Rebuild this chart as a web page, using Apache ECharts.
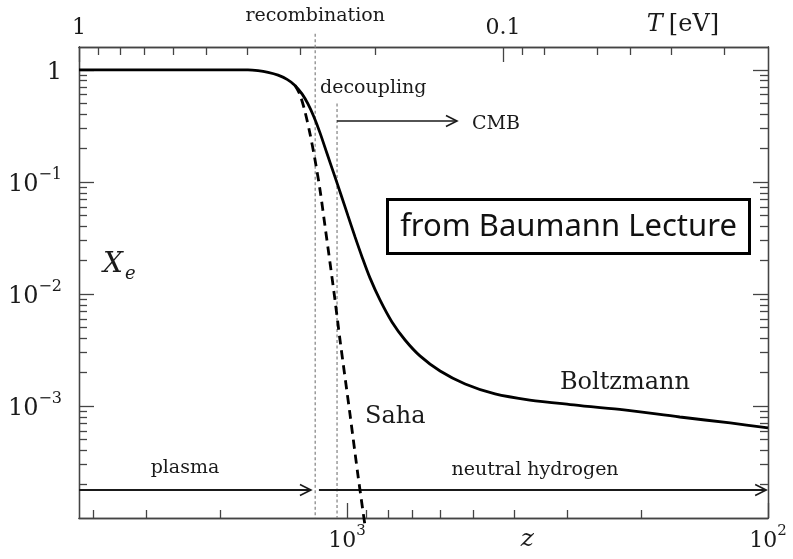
<!DOCTYPE html>
<html><head><meta charset="utf-8">
<script src="https://cdn.jsdelivr.net/npm/echarts@6/dist/echarts.min.js"></script>
<style>html,body{margin:0;padding:0;background:#fff}#c{width:793px;height:559px}</style>
</head><body><div id="c"></div>
<script>
// ---- data ----
const boltzmannZ  = [4331, 2235, 1719, 1627, 1540, 1458, 1388, 1329, 1279, 1238, 1198, 1159, 1116, 1074, 1033, 994.5, 957, 921, 882, 835, 782, 728, 671, 601, 524, 445, 368, 295, 225, 162, 123, 100];
const boltzmannXe = [1, 1, 1, 0.984, 0.95, 0.897, 0.823, 0.727, 0.61, 0.497, 0.38, 0.274, 0.18, 0.1179, 0.0765, 0.0497, 0.0323, 0.0214, 0.0139, 0.00884, 0.00562, 0.00388, 0.0028, 0.00205, 0.00157, 0.00128, 0.00113, 0.00103, 0.000931, 0.000797, 0.000705, 0.000637];
const sahaZ  = [1329, 1293, 1258, 1224, 1191, 1159, 1128, 1098, 1068, 1039, 984, 942, 906];
const sahaXe = [0.727, 0.598, 0.422, 0.268, 0.157, 0.0848, 0.0405, 0.0193, 0.00884, 0.00388, 0.000849, 0.000242, 0.0000849];
const zMajorTicks = [1000, 100];
const zMinorTicks = [4000, 3000, 2000, 900, 800, 700, 600, 500, 400, 300, 200];
const tMajorTicks = [1, 0.1];
const tMinorTicks = [0.9, 0.8, 0.7, 0.6, 0.5, 0.4, 0.3, 0.2, 0.09, 0.08, 0.06, 0.05, 0.04, 0.03];
const xeMajorTicks = [1, 0.1, 0.01, 0.001];
const xeMinorTicks = [0.9,0.8,0.7,0.6,0.5,0.4,0.3,0.2, 0.09,0.08,0.07,0.06,0.05,0.04,0.03,0.02, 0.009,0.008,0.007,0.006,0.005,0.004,0.003,0.002, 0.0009,0.0008,0.0007,0.0006,0.0005,0.0004,0.0003,0.0002];
const zRange = [100, 4331];
const tRange = [0.0237, 1];
const xeRange = [0.0001, 1.6];
const zRecombination = 1190;
const zDecoupling = 1056;
const xeArrowLevel = 1.78e-4;
const xeCMBArrow = 0.35;
const zCMBArrowEnd = 548;
const zPlasmaEnd = 1218;
const zNeutralStart = 1166;

// ---- chart ----
const SERIF = '"DejaVu Serif", "Liberation Serif", serif';
const INK = '#1a1a1a';
const AX = '#444';
const chart = echarts.init(document.getElementById('c'), null, {renderer: 'canvas'});

function pairs(xs, ys) { return xs.map((x, i) => [x, ys[i]]); }
function supLabel(v) {
  if (Math.abs(v - 1) < 1e-9) return '{b|1}';
  const e = Math.round(Math.log10(v));
  return '{b|10}{s|' + (e < 0 ? '\u2212' + (-e) : e) + '}';
}
function richLab(size) {
  return {
    b: {fontFamily: SERIF, fontSize: size, color: INK, lineHeight: size + 6, verticalAlign: 'bottom'},
    s: {fontFamily: SERIF, fontSize: Math.round(size * 0.68), color: INK, lineHeight: 16, verticalAlign: 'top'}
  };
}
const lineStyleAx = {color: AX, width: 1.3};

function xAxisDef(pos, range, ticks, len, labels, fmt) {
  return {
    type: 'log', position: pos, inverse: true, min: range[0], max: range[1],
    axisLine: {show: true, onZero: false, lineStyle: lineStyleAx},
    axisTick: {show: true, inside: true, length: len, customValues: ticks, lineStyle: lineStyleAx},
    axisLabel: labels ? {show: true, customValues: labels, formatter: fmt, rich: richLab(22), margin: pos === 'top' ? 8 : 6} : {show: false},
    splitLine: {show: false}, minorTick: {show: false}
  };
}
function yAxisDef(pos, ticks, len, labels) {
  return {
    type: 'log', position: pos, min: xeRange[0], max: xeRange[1],
    axisLine: {show: true, onZero: false, lineStyle: lineStyleAx},
    axisTick: {show: true, inside: true, length: len, customValues: ticks, lineStyle: lineStyleAx},
    axisLabel: labels ? {show: true, customValues: labels, formatter: supLabel, rich: richLab(24), margin: 17} : {show: false},
    splitLine: {show: false}, minorTick: {show: false}
  };
}

function arrowHead(tx, ty) {
  return {type: 'polyline', shape: {points: [[tx - 11, ty - 5.5], [tx, ty], [tx - 11, ty + 5.5]]},
    style: {stroke: INK, lineWidth: 1.6, fill: null}};
}
function txt(p, text, opts) {
  return {type: 'text', x: p[0], y: p[1], style: Object.assign({text: text, fill: INK,
    font: '19px ' + SERIF, align: 'left', verticalAlign: 'middle'}, opts || {})};
}

function renderAnnotations(params, api) {
  const c = (z, xe) => api.coord([z, xe]);
  const kids = [];
  const dash = {stroke: '#8a8a8a', lineWidth: 1.3, lineDash: [3, 2.5]};
  let a = c(zRecombination, 2.1), b = c(zRecombination, xeRange[0]);
  kids.push({type: 'line', shape: {x1: a[0], y1: a[1], x2: b[0], y2: b[1]}, style: dash});
  a = c(zDecoupling, 0.5); b = c(zDecoupling, xeRange[0]);
  kids.push({type: 'line', shape: {x1: a[0], y1: a[1], x2: b[0], y2: b[1]}, style: dash});
  // plasma arrow
  a = c(zRange[1], xeArrowLevel); b = c(zPlasmaEnd, xeArrowLevel);
  kids.push({type: 'line', shape: {x1: a[0], y1: a[1], x2: b[0], y2: b[1]}, style: {stroke: INK, lineWidth: 2}});
  kids.push(arrowHead(b[0], b[1]));
  // neutral hydrogen arrow
  a = c(zNeutralStart, xeArrowLevel); b = c(101, xeArrowLevel);
  kids.push({type: 'line', shape: {x1: a[0], y1: a[1], x2: b[0], y2: b[1]}, style: {stroke: INK, lineWidth: 2}});
  kids.push(arrowHead(b[0], b[1]));
  // CMB arrow
  a = c(zDecoupling, xeCMBArrow); b = c(zCMBArrowEnd, xeCMBArrow);
  kids.push({type: 'line', shape: {x1: a[0], y1: a[1], x2: b[0], y2: b[1]}, style: {stroke: INK, lineWidth: 1.6}});
  kids.push(arrowHead(b[0], b[1]));
  // texts
  kids.push(txt(c(zRecombination, 3.0), 'recombination', {align: 'center'}));
  kids.push(txt(c(1159, 0.69), 'decoupling'));
  kids.push(txt(c(505, 0.33), 'CMB'));
  kids.push(txt(c(906, 7.97e-4), 'Saha', {font: '24px ' + SERIF}));
  kids.push(txt(c(312, 1.6e-3), 'Boltzmann', {font: '24px ' + SERIF}));
  kids.push(txt(c(2426, 2.79e-4), 'plasma', {align: 'center'}));
  kids.push(txt(c(357.6, 2.68e-4), 'neutral hydrogen', {align: 'center'}));
  const px = c(3798, 0.01815);
  kids.push(txt(px, 'X', {font: 'italic 28px ' + SERIF}));
  kids.push(txt([px[0] + 22, px[1] + 9], 'e', {font: 'italic 18px ' + SERIF}));
  kids.push(txt(c(373, 6.4e-5), 'z', {align: 'center', font: 'italic 25px ' + SERIF}));
  const pt = c(194, 2.52);
  kids.push(txt(pt, 'T', {font: 'italic 24px ' + SERIF}));
  kids.push(txt([pt[0] + 22, pt[1]], '[eV]', {font: '24px ' + SERIF}));
  return {type: 'group', children: kids};
}

chart.setOption({
  animation: false,
  backgroundColor: '#fff',
  grid: {left: 79, right: 25, top: 47, bottom: 41},
  xAxis: [
    xAxisDef('bottom', zRange, zMinorTicks, 8, null),
    xAxisDef('bottom', zRange, zMajorTicks, 15, zMajorTicks, supLabel),
    xAxisDef('top', tRange, tMinorTicks, 8, null),
    xAxisDef('top', tRange, tMajorTicks, 15, tMajorTicks, v => '{b|' + (v >= 1 ? '1' : '0.1') + '}')
  ],
  yAxis: [
    yAxisDef('left', xeMinorTicks, 8, null),
    yAxisDef('left', xeMajorTicks, 15, xeMajorTicks),
    yAxisDef('right', xeMinorTicks, 8, null),
    yAxisDef('right', xeMajorTicks, 15, null)
  ],
  series: [
    {type: 'line', xAxisIndex: 0, yAxisIndex: 0, data: pairs(boltzmannZ, boltzmannXe), showSymbol: false,
     smooth: 0.3, lineStyle: {color: '#000', width: 2.8}, clip: false, z: 3},
    {type: 'line', xAxisIndex: 0, yAxisIndex: 0, data: pairs(sahaZ, sahaXe), showSymbol: false,
     smooth: 0.3, lineStyle: {color: '#000', width: 2.8, type: [9, 6]}, clip: false, z: 3},
    {type: 'custom', xAxisIndex: 0, yAxisIndex: 0, data: [[zRecombination, 1]], clip: false,
     renderItem: renderAnnotations, silent: true, z: 2}
  ],
  graphic: [{
    type: 'group', left: 386, top: 198,
    children: [
      {type: 'rect', shape: {x: 0, y: 0, width: 362, height: 54}, style: {fill: '#fff', stroke: '#000', lineWidth: 3}},
      {type: 'text', x: 181, y: 28, style: {text: 'from Baumann Lecture', font: '31px "Noto Sans", sans-serif', fill: '#111', align: 'center', verticalAlign: 'middle'}}
    ]
  }]
});
</script></body></html>
